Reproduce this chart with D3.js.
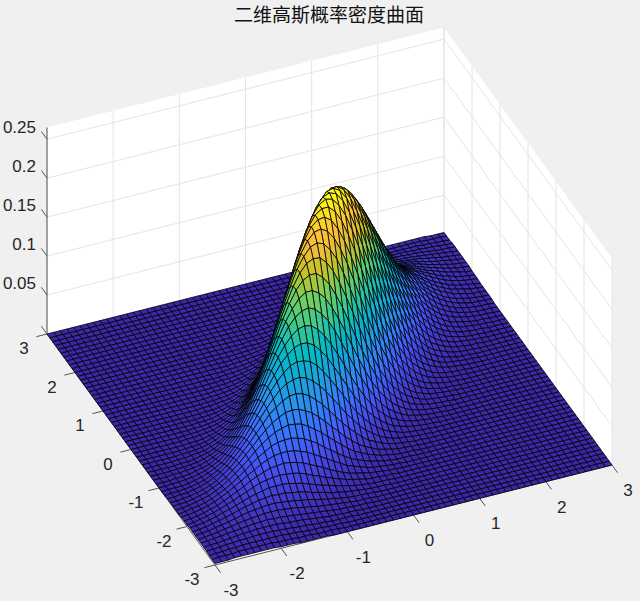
<!DOCTYPE html>
<meta charset="utf-8">
<script src="https://d3js.org/d3.v7.min.js"></script>
<style>
    body { margin: 0; background: #f0f0f0; }
    text { font-family: "Liberation Sans", sans-serif; font-size: 17px; fill: #262626; }
    .title { font-family: "Noto Sans CJK SC", sans-serif; font-size: 19px; fill: #111; }
</style>
<div id="chart"></div>
<script>
    var width = 640
    var height = 601

    const titleText = "二维高斯概率密度曲面"
    const xTicks = [-3, -2, -1, 0, 1, 2, 3]
    const yTicks = [-3, -2, -1, 0, 1, 2, 3]
    const zTicks = [0, 0.05, 0.1, 0.15, 0.2, 0.25]
    const zTickLabels = ["", "0.05", "0.1", "0.15", "0.2", "0.25"]
    const zTop = 0.265

    // mesh lines, 0.1 apart on both axes
    const gridValues = [-3, -2.9, -2.8, -2.7, -2.6, -2.5, -2.4, -2.3, -2.2, -2.1, -2, -1.9, -1.8, -1.7, -1.6, -1.5, -1.4, -1.3, -1.2, -1.1,
        -1, -0.9, -0.8, -0.7, -0.6, -0.5, -0.4, -0.3, -0.2, -0.1, 0, 0.1, 0.2, 0.3, 0.4, 0.5, 0.6, 0.7, 0.8, 0.9,
        1, 1.1, 1.2, 1.3, 1.4, 1.5, 1.6, 1.7, 1.8, 1.9, 2, 2.1, 2.2, 2.3, 2.4, 2.5, 2.6, 2.7, 2.8, 2.9, 3]

    // first x index listed in each row of zRows, the height is 0 outside the listed stretch
    const zRowStart = [0, 0, 0, 0, 0, 0, 0, 0, 0, 0, 0, 0, 0, 0, 0, 0, 0, 0, 1, 1, 2, 3, 3, 4, 5, 5, 6, 7, 8, 8,
        9, 10, 11, 12, 13, 13, 14, 15, 16, 17, 18, 19, 20, 21, 22, 23, 24, 25, 27, 28, 29, 30, 31, 33, 34, 35, 37, 38, 40, 41, 43]

    // surface height in thousandths, one row per y (-3 first)
    const zRows = [
        [2,2,2,3,3,3,3,3,3,3,2,2,2,1,1,1,1,1],
        [2,3,3,3,4,4,4,4,4,4,3,3,3,2,2,2,1,1,1,1],
        [2,3,3,4,4,5,5,5,5,5,5,5,4,4,3,2,2,2,1,1,1],
        [3,3,4,5,5,6,6,7,7,7,7,6,6,5,4,4,3,2,2,1,1,1,1],
        [3,4,4,5,6,7,8,8,9,9,9,9,8,7,7,6,5,4,3,2,2,1,1,1],
        [3,4,5,6,7,8,9,10,11,11,12,11,11,10,9,8,7,6,5,4,3,2,2,1,1,1],
        [3,4,5,6,8,9,11,12,13,14,15,15,15,14,13,12,10,9,7,6,5,4,3,2,1,1,1],
        [3,4,5,7,8,10,12,14,16,17,18,19,19,18,17,16,14,13,11,9,7,6,4,3,2,2,1,1],
        [3,4,5,7,9,11,13,16,18,20,22,23,24,23,23,21,20,18,15,13,11,8,7,5,4,3,2,1,1,1],
        [3,4,5,7,9,12,14,17,20,23,25,27,29,29,29,28,26,24,21,18,15,13,10,8,6,4,3,2,1,1,1],
        [2,3,5,7,9,12,15,18,22,25,29,32,34,35,36,35,34,32,29,25,22,18,15,12,9,7,5,3,2,2,1,1],
        [2,3,4,6,9,11,15,19,23,27,32,36,39,42,43,44,43,41,38,34,30,26,21,17,13,10,8,6,4,3,2,1,1],
        [2,3,4,6,8,11,15,19,24,29,34,39,44,48,51,52,52,51,48,45,40,35,30,25,20,15,12,9,6,4,3,2,1,1],
        [1,2,4,5,7,10,14,18,23,29,35,42,48,53,58,61,62,62,60,57,52,47,40,34,28,22,17,13,10,7,5,3,2,1,1,1],
        [1,2,3,5,7,9,13,17,23,29,36,43,51,58,64,69,72,74,73,71,66,60,54,46,39,32,25,19,15,11,8,5,4,2,1,1,1],
        [1,2,2,4,6,8,12,16,21,28,35,44,52,61,69,76,81,85,86,85,81,76,69,61,52,44,35,28,21,16,12,8,6,4,2,2,1,1],
        [1,1,2,3,5,7,10,14,20,26,34,43,52,62,72,82,89,95,99,100,98,93,86,78,68,58,48,39,31,23,17,13,9,6,4,3,2,1,1],
        [1,1,2,2,4,6,9,13,18,24,32,41,51,62,74,85,95,104,110,113,114,111,105,97,87,76,65,53,43,33,25,19,13,9,6,4,3,2,1,1],
        [1,1,2,3,5,7,11,15,21,29,38,48,60,73,86,99,110,119,126,129,128,125,118,108,96,84,71,58,46,36,27,20,14,10,7,4,3,2,1,1],
        [1,1,1,2,4,6,9,13,18,25,34,45,57,71,85,100,113,126,135,142,145,144,139,130,119,105,91,76,62,49,38,29,21,15,10,7,5,3,2,1,1],
        [1,1,2,3,5,7,11,15,22,30,40,52,66,81,98,114,129,142,152,159,161,159,152,142,129,114,98,81,66,52,40,30,22,15,11,7,5,3,2,1,1],
        [1,1,2,4,6,8,13,18,26,35,47,60,76,93,111,129,145,159,169,175,177,173,165,154,139,122,104,86,70,55,42,31,22,16,11,7,5,3,2,1,1],
        [1,1,2,3,4,7,10,15,21,30,40,54,69,86,105,125,144,161,175,186,192,192,187,178,164,147,129,109,90,72,56,43,32,23,16,11,7,5,3,2,1,1],
        [1,1,2,3,5,8,12,17,25,34,46,61,78,97,118,138,159,177,192,202,207,207,200,189,173,155,134,113,93,74,58,44,32,23,16,11,7,5,3,2,1,1],
        [1,1,2,4,6,9,14,20,28,39,52,68,87,108,130,152,173,192,207,217,221,220,212,199,181,161,139,117,95,76,58,44,32,23,16,11,7,4,3,2,1,1],
        [1,1,2,3,4,7,10,15,22,32,44,58,76,96,119,142,165,187,207,221,231,234,231,221,207,187,165,142,119,96,76,58,44,32,22,15,10,7,4,3,2,1,1],
        [1,1,2,3,5,8,12,17,25,35,48,65,84,105,129,154,178,200,220,234,243,245,240,229,212,192,168,144,119,96,76,58,43,31,22,15,10,6,4,2,1,1],
        [1,1,2,3,6,9,13,19,28,39,53,71,91,114,139,164,189,212,231,245,252,253,247,234,216,194,169,144,119,95,74,56,42,30,21,14,9,6,4,2,1,1],
        [1,1,2,4,6,10,15,22,31,43,58,76,98,122,147,173,199,221,240,253,259,259,251,237,217,194,168,142,117,93,72,55,40,29,20,14,9,6,4,2,1,1],
        [1,1,2,3,4,7,11,16,23,33,46,62,81,104,129,155,181,207,229,247,259,264,262,252,237,216,192,165,139,113,90,70,52,38,27,19,13,8,5,3,2,1,1],
        [1,1,2,3,5,8,12,17,25,36,49,66,86,109,134,161,187,212,234,251,262,265,262,251,234,212,187,161,134,109,86,66,49,36,25,17,12,8,5,3,2,1,1],
        [1,1,2,3,5,8,13,19,27,38,52,70,90,113,139,165,192,216,237,252,262,264,259,247,229,207,181,155,129,104,81,62,46,33,23,16,11,7,4,3,2,1,1],
        [1,1,2,4,6,9,14,20,29,40,55,72,93,117,142,168,194,217,237,251,259,259,253,240,221,199,173,147,122,98,76,58,43,31,22,15,10,6,4,2,1,1],
        [1,1,2,4,6,9,14,21,30,42,56,74,95,119,144,169,194,216,234,247,253,252,245,231,212,189,164,139,114,91,71,53,39,28,19,13,9,6,3,2,1,1],
        [1,1,2,4,6,10,15,22,31,43,58,76,96,119,144,168,192,212,229,240,245,243,234,220,200,178,154,129,105,84,65,48,35,25,17,12,8,5,3,2,1,1],
        [1,1,2,3,4,7,10,15,22,32,44,58,76,96,119,142,165,187,207,221,231,234,231,221,207,187,165,142,119,96,76,58,44,32,22,15,10,7,4,3,2,1,1],
        [1,1,2,3,4,7,11,16,23,32,44,58,76,95,117,139,161,181,199,212,220,221,217,207,192,173,152,130,108,87,68,52,39,28,20,14,9,6,4,2,1,1],
        [1,1,2,3,5,7,11,16,23,32,44,58,74,93,113,134,155,173,189,200,207,207,202,192,177,159,138,118,97,78,61,46,34,25,17,12,8,5,3,2,1,1],
        [1,1,2,3,5,7,11,16,23,32,43,56,72,90,109,129,147,164,178,187,192,192,186,175,161,144,125,105,86,69,54,40,30,21,15,10,7,4,3,2,1,1],
        [1,1,2,3,5,7,11,16,22,31,42,55,70,86,104,122,139,154,165,173,177,175,169,159,145,129,111,93,76,60,47,35,26,18,13,8,6,4,2,1,1],
        [1,1,2,3,5,7,11,15,22,30,40,52,66,81,98,114,129,142,152,159,161,159,152,142,129,114,98,81,66,52,40,30,22,15,11,7,5,3,2,1,1],
        [1,1,2,3,5,7,10,15,21,29,38,49,62,76,91,105,119,130,139,144,145,142,135,126,113,100,85,71,57,45,34,25,18,13,9,6,4,2,1,1,1],
        [1,1,2,3,4,7,10,14,20,27,36,46,58,71,84,96,108,118,125,128,129,126,119,110,99,86,73,60,48,38,29,21,15,11,7,5,3,2,1,1],
        [1,1,2,3,4,6,9,13,19,25,33,43,53,65,76,87,97,105,111,114,113,110,104,95,85,74,62,51,41,32,24,18,13,9,6,4,2,2,1,1],
        [1,1,2,3,4,6,9,13,17,23,31,39,48,58,68,78,86,93,98,100,99,95,89,82,72,62,52,43,34,26,20,14,10,7,5,3,2,1,1],
        [1,1,2,2,4,6,8,12,16,21,28,35,44,52,61,69,76,81,85,86,85,81,76,69,61,52,44,35,28,21,16,12,8,6,4,2,2,1],
        [1,1,1,2,4,5,8,11,15,19,25,32,39,46,54,60,66,71,73,74,72,69,64,58,51,43,36,29,23,17,13,9,7,5,3,2,1],
        [1,1,1,2,3,5,7,10,13,17,22,28,34,40,47,52,57,60,62,62,61,58,53,48,42,35,29,23,18,14,10,7,5,4,2,1],
        [1,1,2,3,4,6,9,12,15,20,25,30,35,40,45,48,51,52,52,51,48,44,39,34,29,24,19,15,11,8,6,4,3,2],
        [1,1,2,3,4,6,8,10,13,17,21,26,30,34,38,41,43,44,43,42,39,36,32,27,23,19,15,11,9,6,4,3,2],
        [1,1,2,2,3,5,7,9,12,15,18,22,25,29,32,34,35,36,35,34,32,29,25,22,18,15,12,9,7,5,3,2],
        [1,1,1,2,3,4,6,8,10,13,15,18,21,24,26,28,29,29,29,27,25,23,20,17,14,12,9,7,5,4,3],
        [1,1,1,2,3,4,5,7,8,11,13,15,18,20,21,23,23,24,23,22,20,18,16,13,11,9,7,5,4,3],
        [1,1,2,2,3,4,6,7,9,11,13,14,16,17,18,19,19,18,17,16,14,12,10,8,7,5,4,3],
        [1,1,1,2,3,4,5,6,7,9,10,12,13,14,15,15,15,14,13,12,11,9,8,6,5,4,3],
        [1,1,1,2,2,3,4,5,6,7,8,9,10,11,11,12,11,11,10,9,8,7,6,5,4,3],
        [1,1,1,2,2,3,4,5,6,7,7,8,9,9,9,9,8,8,7,6,5,4,4,3],
        [1,1,1,1,2,2,3,4,4,5,6,6,7,7,7,7,6,6,5,5,4,3,3],
        [1,1,1,2,2,2,3,4,4,5,5,5,5,5,5,5,4,4,3,3,2],
        [1,1,1,1,2,2,2,3,3,3,4,4,4,4,4,4,3,3,3,2],
        [1,1,1,1,1,2,2,2,3,3,3,3,3,3,3,2,2,2]
    ]

    // parula, sampled
    const colorStops = [0, 0.143, 0.238, 0.333, 0.476, 0.6, 0.667, 0.76, 0.85, 0.92, 1]
    const colorValues = ["#3e26a8", "#4752f4", "#3875fe", "#2796eb", "#02bac3", "#4acb84", "#72cd64", "#c5c22a", "#f8ba3d", "#fcce2b", "#f9fb15"]

    var color = d3.scaleLinear().domain(colorStops).range(colorValues).clamp(true)

    // oblique view: every data axis moves the point along its own screen direction
    const originX = 215
    const originY = 565
    var xToLeft = d3.scaleLinear().domain([-3, 3]).range([0, 397])
    var xToTop = d3.scaleLinear().domain([-3, 3]).range([0, -100])
    var yToLeft = d3.scaleLinear().domain([-3, 3]).range([0, -168])
    var yToTop = d3.scaleLinear().domain([-3, 3]).range([0, -231])
    var zToTop = d3.scaleLinear().domain([0, zTop]).range([0, -206.5])

    function project(x, y, z) {
        return [originX + xToLeft(x) + yToLeft(y), originY + xToTop(x) + yToTop(y) + zToTop(z)]
    }

    var svg = d3.select("#chart")
        .append("svg")
        .attr("width", width)
        .attr("height", height)
        .style("display", "block")

    var line = d3.line()

    // back walls
    svg.append("path")
        .attr("d", line([project(-3, 3, 0), project(3, 3, 0), project(3, -3, 0), project(3, -3, zTop), project(3, 3, zTop), project(-3, 3, zTop)]) + "Z")
        .attr("fill", "#fff")

    var gridLines = []
    xTicks.forEach(function (x) {
        gridLines.push([project(x, 3, 0), project(x, 3, zTop)])
    })
    yTicks.forEach(function (y) {
        gridLines.push([project(3, y, 0), project(3, y, zTop)])
    })
    zTicks.forEach(function (z) {
        gridLines.push([project(-3, 3, z), project(3, 3, z), project(3, -3, z)])
    })

    svg.append("g")
        .selectAll("path")
        .data(gridLines)
        .join("path")
        .attr("d", line)
        .attr("fill", "none")
        .attr("stroke", "#e4e4e4")
        .attr("stroke-width", 1)

    // axis lines and tick marks
    var axisLines = [
        [project(-3, 3, 0), project(-3, 3, zTop)],
        [project(-3, 3, 0), project(-3, -3, 0)],
        [project(-3, -3, 0), project(3, -3, 0)]
    ]
    xTicks.forEach(function (x) {
        axisLines.push([project(x, -3, 0), project(x, -3.2, 0)])
    })
    yTicks.forEach(function (y) {
        axisLines.push([project(-3, y, 0), project(-3.16, y, 0)])
    })
    zTicks.forEach(function (z) {
        axisLines.push([project(-3, 3, z), project(-3, 3.2, z)])
    })

    svg.append("g")
        .selectAll("path")
        .data(axisLines)
        .join("path")
        .attr("d", line)
        .attr("fill", "none")
        .attr("stroke", "#555")
        .attr("stroke-width", 1)

    function heightAt(i, j) {
        return (zRows[j][i - zRowStart[j]] || 0) / 1000
    }

    // one face per mesh cell, far corner first so nearer faces paint over it
    var cells = []
    for (var j = gridValues.length - 2; j >= 0; j--) {
        for (var i = gridValues.length - 2; i >= 0; i--) {
            cells.push({ i: i, j: j })
        }
    }

    function corner(i, j) {
        return project(gridValues[i], gridValues[j], heightAt(i, j))
    }

    svg.append("g")
        .selectAll("path")
        .data(cells)
        .join("path")
        .attr("d", function (d) {
            return line([corner(d.i, d.j), corner(d.i + 1, d.j), corner(d.i + 1, d.j + 1), corner(d.i, d.j + 1)]) + "Z"
        })
        .attr("fill", function (d) {
            return color(heightAt(d.i, d.j) / zTop)
        })
        .attr("stroke", "#000")
        .attr("stroke-width", 0.8)
        .attr("stroke-linejoin", "round")

    // tick labels
    svg.append("g")
        .selectAll("text")
        .data(xTicks)
        .join("text")
        .attr("x", function (d) { return project(d, -3, 0)[0] + 16 })
        .attr("y", function (d) { return project(d, -3, 0)[1] + 31 })
        .attr("text-anchor", "middle")
        .text(function (d) { return d })

    svg.append("g")
        .selectAll("text")
        .data(yTicks)
        .join("text")
        .attr("x", function (d) { return project(-3, d, 0)[0] - 23 })
        .attr("y", function (d) { return project(-3, d, 0)[1] + 20 })
        .attr("text-anchor", "middle")
        .text(function (d) { return d })

    svg.append("g")
        .selectAll("text")
        .data(zTicks)
        .join("text")
        .attr("x", function (d) { return project(-3, 3, d)[0] - 11 })
        .attr("y", function (d) { return project(-3, 3, d)[1] - 6 })
        .attr("text-anchor", "end")
        .text(function (d, i) { return zTickLabels[i] })

    svg.append("text")
        .attr("class", "title")
        .attr("x", 329)
        .attr("y", 22)
        .attr("text-anchor", "middle")
        .text(titleText)
</script>
